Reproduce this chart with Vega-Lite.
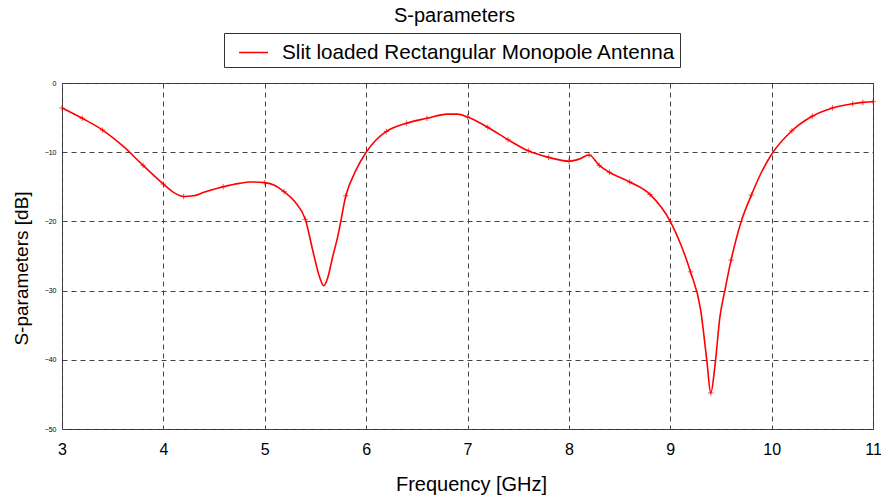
{
  "$schema": "https://vega.github.io/schema/vega-lite/v6.json",
  "width": 811,
  "height": 346,
  "autosize": {"type": "none"},
  "padding": {"left": 62, "top": 83, "right": 8, "bottom": 66},
  "background": "white",
  "config": {
    "font": "Liberation Sans",
    "view": {"stroke": "#333333", "strokeWidth": 1}
  },
  "title": {
    "text": "S-parameters",
    "fontSize": 20,
    "fontWeight": "normal",
    "color": "black",
    "anchor": "middle",
    "frame": "group",
    "dx": -13,
    "offset": 7
  },
  "datasets": {
    "curve": [
      {"f": 3.0, "s": -3.6}, {"f": 3.2, "s": -5.1}, {"f": 3.4, "s": -6.8}, {"f": 3.6, "s": -9.1},
      {"f": 3.8, "s": -11.9}, {"f": 4.0, "s": -14.6}, {"f": 4.1, "s": -15.8}, {"f": 4.2, "s": -16.4},
      {"f": 4.3, "s": -16.3}, {"f": 4.4, "s": -15.8}, {"f": 4.59, "s": -15.0}, {"f": 4.75, "s": -14.5},
      {"f": 4.86, "s": -14.3}, {"f": 5.0, "s": -14.4}, {"f": 5.1, "s": -14.8}, {"f": 5.19, "s": -15.7},
      {"f": 5.3, "s": -17.2}, {"f": 5.4, "s": -19.7}, {"f": 5.48, "s": -24.6}, {"f": 5.54, "s": -28.0},
      {"f": 5.58, "s": -29.3}, {"f": 5.62, "s": -28.2}, {"f": 5.67, "s": -25.1}, {"f": 5.72, "s": -22.2},
      {"f": 5.8, "s": -16.3}, {"f": 5.9, "s": -12.6}, {"f": 6.0, "s": -10.0}, {"f": 6.1, "s": -8.2},
      {"f": 6.2, "s": -7.0}, {"f": 6.4, "s": -5.8}, {"f": 6.6, "s": -5.1}, {"f": 6.8, "s": -4.5},
      {"f": 6.9, "s": -4.5}, {"f": 7.0, "s": -4.9}, {"f": 7.2, "s": -6.4}, {"f": 7.4, "s": -8.2},
      {"f": 7.6, "s": -9.8}, {"f": 7.8, "s": -10.75}, {"f": 8.0, "s": -11.3}, {"f": 8.1, "s": -11.0},
      {"f": 8.2, "s": -10.4}, {"f": 8.3, "s": -11.9}, {"f": 8.4, "s": -12.9}, {"f": 8.6, "s": -14.3},
      {"f": 8.8, "s": -16.1}, {"f": 9.0, "s": -20.0}, {"f": 9.1, "s": -23.2}, {"f": 9.2, "s": -27.3},
      {"f": 9.3, "s": -32.8}, {"f": 9.36, "s": -40.0}, {"f": 9.4, "s": -44.8}, {"f": 9.44, "s": -41.0},
      {"f": 9.49, "s": -33.8}, {"f": 9.54, "s": -29.9}, {"f": 9.6, "s": -25.6}, {"f": 9.7, "s": -20.0},
      {"f": 9.8, "s": -16.2}, {"f": 9.9, "s": -12.9}, {"f": 10.0, "s": -10.3}, {"f": 10.2, "s": -6.9},
      {"f": 10.4, "s": -4.8}, {"f": 10.6, "s": -3.6}, {"f": 10.8, "s": -3.0}, {"f": 10.9, "s": -2.8},
      {"f": 11.0, "s": -2.7}
    ],
    "samples": [
      {"f": 3.0, "s": -3.6}, {"f": 3.2, "s": -5.1}, {"f": 3.4, "s": -6.8}, {"f": 3.8, "s": -11.9},
      {"f": 4.0, "s": -14.6}, {"f": 4.2, "s": -16.4}, {"f": 4.59, "s": -15.0}, {"f": 5.0, "s": -14.4},
      {"f": 5.19, "s": -15.7}, {"f": 5.4, "s": -19.7}, {"f": 5.8, "s": -16.3}, {"f": 6.2, "s": -7.0},
      {"f": 6.4, "s": -5.8}, {"f": 6.6, "s": -5.1}, {"f": 7.0, "s": -4.9}, {"f": 7.2, "s": -6.4},
      {"f": 7.4, "s": -8.2}, {"f": 7.6, "s": -9.8}, {"f": 7.8, "s": -10.75}, {"f": 8.0, "s": -11.3},
      {"f": 8.2, "s": -10.4}, {"f": 8.3, "s": -11.9}, {"f": 8.4, "s": -12.9}, {"f": 8.6, "s": -14.3},
      {"f": 8.8, "s": -16.1}, {"f": 9.0, "s": -20.0}, {"f": 9.2, "s": -27.3}, {"f": 9.4, "s": -44.8},
      {"f": 9.6, "s": -25.6}, {"f": 9.8, "s": -16.2}, {"f": 10.2, "s": -6.9}, {"f": 10.4, "s": -4.8},
      {"f": 10.6, "s": -3.6}, {"f": 10.8, "s": -3.0}, {"f": 10.9, "s": -2.8}, {"f": 11.0, "s": -2.7}
    ]
  },
  "encoding": {
    "x": {
      "field": "f", "type": "quantitative",
      "scale": {"domain": [3, 11], "nice": false, "zero": false},
      "axis": {
        "title": "Frequency [GHz]", "titleFontSize": 20, "titleFontWeight": "normal", "titleColor": "black",
        "titlePadding": 17, "titleX": 409,
        "values": [3, 4, 5, 6, 7, 8, 9, 10, 11], "format": "d",
        "labelFontSize": 16, "labelColor": "black", "labelPadding": 12, "labelFlush": false,
        "ticks": false, "domain": false,
        "grid": true, "gridDash": [5, 4], "gridColor": "#444444", "gridOpacity": 1, "gridWidth": 1
      }
    },
    "y": {
      "field": "s", "type": "quantitative",
      "scale": {"domain": [-50, 0], "nice": false, "zero": false},
      "axis": {
        "title": "S-parameters [dB]", "titleFontSize": 19, "titleFontWeight": "normal", "titleColor": "black",
        "titlePadding": 13, "titleY": 185,
        "values": [0, -10, -20, -30, -40, -50],
        "labelFontSize": 7, "labelColor": "black", "labelPadding": 6, "labelFlush": false,
        "ticks": false, "domain": false,
        "grid": true, "gridDash": [5, 4], "gridColor": "#444444", "gridOpacity": 1, "gridWidth": 1
      }
    }
  },
  "layer": [
    {
      "data": {"name": "curve"},
      "transform": [{"calculate": "'Slit loaded Rectangular Monopole Antenna'", "as": "series"}],
      "mark": {"type": "line", "interpolate": "monotone", "strokeWidth": 1.6},
      "encoding": {
        "color": {
          "field": "series", "type": "nominal",
          "scale": {"range": ["#ff0000"]},
          "legend": {
            "title": null, "orient": "none", "legendX": 162, "legendY": -50,
            "symbolType": "stroke", "symbolStrokeWidth": 1.5, "symbolSize": 841,
            "labelFontSize": 20.7, "labelColor": "black", "labelLimit": 600,
            "strokeColor": "#333333", "padding": 4, "labelOffset": 13,
            "symbolOffset": 10
          }
        }
      }
    },
    {
      "data": {"name": "samples"},
      "mark": {"type": "point", "shape": "M-1,0H1M0,-1V1", "size": 30, "color": "#ff0000", "strokeWidth": 1, "filled": false, "opacity": 0.7}
    }
  ]
}
